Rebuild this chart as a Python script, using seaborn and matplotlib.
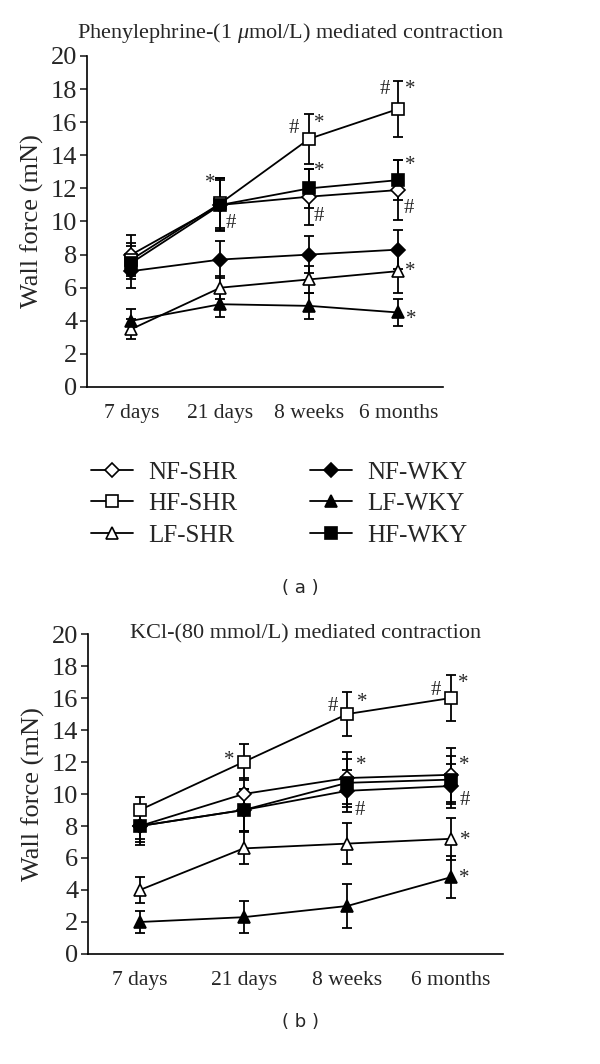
import numpy as np
import pandas as pd
import seaborn as sns
import matplotlib.pyplot as plt
import matplotlib.transforms as mtransforms

# time points and groups
times = ['7 days', '21 days', '8 weeks', '6 months']
groups = ['NF-SHR', 'HF-SHR', 'LF-SHR', 'NF-WKY', 'LF-WKY', 'HF-WKY']

# (a) phenylephrine-mediated contraction, means and SEM (mN)
pe_mean = {
    'NF-SHR': [8.0, 11.0, 11.5, 11.9],
    'HF-SHR': [7.7, 11.1, 15.0, 16.8],
    'LF-SHR': [3.5, 6.0, 6.5, 7.0],
    'NF-WKY': [7.0, 7.7, 8.0, 8.3],
    'LF-WKY': [4.0, 5.0, 4.9, 4.5],
    'HF-WKY': [7.5, 11.0, 12.0, 12.5],
}
pe_err = {
    'NF-SHR': [1.2, 1.6, 1.7, 1.8],
    'HF-SHR': [1.0, 1.5, 1.5, 1.7],
    'LF-SHR': [0.6, 0.7, 0.8, 1.3],
    'NF-WKY': [1.0, 1.1, 1.1, 1.2],
    'LF-WKY': [0.7, 0.8, 0.8, 0.8],
    'HF-WKY': [1.0, 1.5, 1.2, 1.2],
}

# (b) KCl-mediated contraction
kcl_mean = {
    'NF-SHR': [8.0, 10.0, 11.0, 11.2],
    'HF-SHR': [9.0, 12.0, 15.0, 16.0],
    'LF-SHR': [4.0, 6.6, 6.9, 7.2],
    'NF-WKY': [8.0, 9.0, 10.2, 10.5],
    'LF-WKY': [2.0, 2.3, 3.0, 4.8],
    'HF-WKY': [8.0, 9.0, 10.7, 10.9],
}
kcl_err = {
    'NF-SHR': [0.8, 1.0, 1.6, 1.7],
    'HF-SHR': [0.8, 1.1, 1.35, 1.45],
    'LF-SHR': [0.8, 1.0, 1.3, 1.3],
    'NF-WKY': [1.0, 1.3, 1.3, 1.4],
    'LF-WKY': [0.7, 1.0, 1.4, 1.3],
    'HF-WKY': [1.2, 1.3, 1.5, 1.5],
}

# significance marks: (time index, x offset, y level, symbol)
pe_marks = [
    (1, -0.11, 12.3, '*'), (1, 0.12, 9.9, '#'),
    (2, -0.17, 15.6, '#'), (2, 0.11, 15.9, '*'), (2, 0.11, 13.0, '*'), (2, 0.11, 10.3, '#'),
    (3, -0.15, 18.0, '#'), (3, 0.13, 18.0, '*'), (3, 0.13, 13.4, '*'), (3, 0.12, 10.8, '#'),
    (3, 0.13, 7.0, '*'), (3, 0.15, 4.1, '*'),
]
kcl_marks = [
    (1, -0.14, 12.1, '*'),
    (2, -0.14, 15.5, '#'), (2, 0.14, 15.7, '*'), (2, 0.13, 11.8, '*'), (2, 0.12, 9.0, '#'),
    (3, -0.15, 16.5, '#'), (3, 0.12, 16.9, '*'), (3, 0.13, 11.8, '*'), (3, 0.13, 9.6, '#'),
    (3, 0.14, 7.1, '*'), (3, 0.13, 4.7, '*'),
]

styles = {
    'NF-SHR': dict(marker='D', mfc='white', ms=7),
    'HF-SHR': dict(marker='s', mfc='white', ms=9),
    'LF-SHR': dict(marker='^', mfc='white', ms=9),
    'NF-WKY': dict(marker='D', mfc='black', ms=7),
    'LF-WKY': dict(marker='^', mfc='black', ms=9),
    'HF-WKY': dict(marker='s', mfc='black', ms=9),
}

sns.set_style('white')
plt.rcParams['font.family'] = ['Liberation Serif', 'DejaVu Serif']
plt.rcParams['mathtext.fontset'] = 'custom'
plt.rcParams['mathtext.it'] = 'Liberation Serif:italic'
plt.rcParams['mathtext.rm'] = 'Liberation Serif'

fig = plt.figure(figsize=(6, 10.64), dpi=100)
ax1 = fig.add_axes([0.145, 0.6363, 0.593, 0.3111])
ax2 = fig.add_axes([0.1467, 0.1034, 0.6913, 0.3007])


def draw(ax, means, errs, marks):
    for g in groups:
        df = pd.DataFrame({'time': times, 'force': means[g]})
        st = styles[g]
        sns.lineplot(data=df, x='time', y='force', ax=ax, color='black', lw=1.3,
                     marker=st['marker'], markersize=st['ms'], markerfacecolor=st['mfc'],
                     markeredgecolor='black', markeredgewidth=1.2, label=g, zorder=3)
        ax.errorbar(times, means[g], yerr=errs[g], fmt='none', ecolor='black',
                    elinewidth=1.3, capsize=3.5, capthick=1.3, zorder=2)
    for i, dx, y, s in marks:
        ax.text(i + dx, y, s, ha='center', va='center', fontsize=15)
    leg = ax.get_legend()
    if leg is not None:
        leg.remove()
    ax.set_xlim(-0.5, 3.5)
    ax.set_ylim(0, 20)
    ax.set_yticks(np.arange(0, 21, 2))
    ax.set_xticks(range(4))
    ax.set_xticklabels(times)
    ax.set_xticks(np.arange(-0.5, 4, 1), minor=True)
    ax.tick_params(axis='x', which='major', length=0, pad=12, labelsize=15.5)
    ax.tick_params(axis='x', which='minor', length=5, width=1.2, direction='out')
    ax.tick_params(axis='y', length=5, width=1.2, direction='out', pad=2, labelsize=19,
                   left=True)
    for sp in ['top', 'right']:
        ax.spines[sp].set_visible(False)
    for sp in ['left', 'bottom']:
        ax.spines[sp].set_color('black')
        ax.spines[sp].set_linewidth(1.2)
    ax.set_xlabel('')
    ax.set_ylabel('Wall force (mN)', fontsize=19, labelpad=5)


draw(ax1, pe_mean, pe_err, pe_marks)
draw(ax2, kcl_mean, kcl_err, kcl_marks)

fig.text(291 / 600, 1 - 33 / 1064, r'Phenylephrine-(1 $\mu$mol/L) mediated contraction',
         ha='center', va='center', fontsize=16)
blend = mtransforms.blended_transform_factory(ax2.transAxes, ax2.transData)
ax2.text(0.525, 20, 'KCl-(80 mmol/L) mediated contraction', transform=blend,
         fontsize=16, ha='center', va='center')

handles, labels = ax1.get_legend_handles_labels()
fig.legend(handles, labels, ncol=2, loc='center', bbox_to_anchor=(0.465, 1 - 504 / 1064),
           frameon=False, fontsize=18, handlelength=1.7, columnspacing=2.9,
           labelspacing=0.36, handletextpad=0.6)

fig.text(0.5, 1 - 588 / 1064, '( a )', ha='center', va='center', fontsize=13,
         family='DejaVu Sans')
fig.text(0.5, 1 - 1022 / 1064, '( b )', ha='center', va='center', fontsize=13,
         family='DejaVu Sans')

fig.savefig('out.png', dpi=100)
